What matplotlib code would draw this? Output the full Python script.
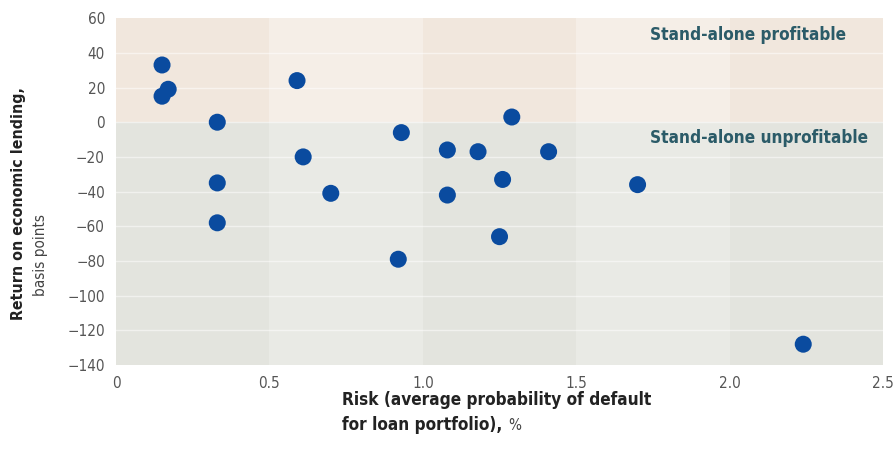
import matplotlib
matplotlib.use('Agg')
import matplotlib.pyplot as plt
from matplotlib.patches import Rectangle

# Risk (PD %) and return (bp) per bank
risk = [0.15, 0.15, 0.17, 0.33, 0.33, 0.33, 0.59, 0.61, 0.70, 0.92,
        0.93, 1.08, 1.08, 1.18, 1.26, 1.25, 1.29, 1.41, 1.70, 2.24]
ret = [33, 15, 19, 0, -35, -58, 24, -20, -41, -79,
       -6, -16, -42, -17, -33, -66, 3, -17, -36, -128]

x_ticks = [0, 0.5, 1.0, 1.5, 2.0, 2.5]
x_tick_labels = ['0', '0.5', '1.0', '1.5', '2.0', '2.5']
y_ticks = list(range(-140, 61, 20))

plt.rcParams['font.family'] = ['DejaVu Sans']
plt.rcParams['font.stretch'] = 'condensed'

fig = plt.figure(figsize=(8.96, 4.54), dpi=100)
ax = fig.add_axes([0.1295, 0.196, 0.856, 0.764])
ax.set_xlim(0, 2.5)
ax.set_ylim(-140, 60)

# shaded background: warm above zero, grey below, alternating columns
top_cols = ['#f1e7dd', '#f5eee7']
bot_cols = ['#e3e4de', '#e9eae5']
for i in range(5):
    x0 = i * 0.5
    ax.add_patch(Rectangle((x0, 0), 0.5, 60, color=top_cols[i % 2], lw=0, zorder=0))
    ax.add_patch(Rectangle((x0, -140), 0.5, 140, color=bot_cols[i % 2], lw=0, zorder=0))
for y in y_ticks[1:-1]:
    ax.axhline(y, color='white', lw=1.0, alpha=0.5, zorder=1)

ax.scatter(risk, ret, s=150, color='#0a4b9f', edgecolors='none', zorder=3)

ax.text(1.74, 50.5, 'Stand-alone profitable', fontsize=12.3, fontweight='bold',
        color='#2b5b68', va='center', ha='left')
ax.text(1.74, -9, 'Stand-alone unprofitable', fontsize=12.3, fontweight='bold',
        color='#2b5b68', va='center', ha='left')

ax.set_xticks(x_ticks)
ax.set_xticklabels(x_tick_labels)
ax.set_yticks(y_ticks)
ax.set_yticklabels([str(v).replace('-', '\u2212') for v in y_ticks])
ax.tick_params(length=0, labelsize=11, colors='#555555', pad=8)
for s in ax.spines.values():
    s.set_visible(False)

fig.text(0.021, 0.295, 'Return on economic lending,', rotation=90, fontsize=11.4,
         fontweight='bold', color='#222222', ha='center', va='bottom')
fig.text(0.045, 0.348, 'basis points', rotation=90, fontsize=11,
         color='#444444', ha='center', va='bottom')

t1 = fig.text(0.382, 0.108, 'Risk (average probability of default', fontsize=12.3,
              fontweight='bold', color='#222222', ha='left', va='baseline')
t2 = fig.text(0.382, 0.053, 'for loan portfolio), ', fontsize=12.3,
              fontweight='bold', color='#222222', ha='left', va='baseline')
r = fig.canvas.get_renderer()
bb = t2.get_window_extent(r)
fig.text(bb.x1 / fig.bbox.width, 0.053, '%', fontsize=11, color='#444444',
         ha='left', va='baseline')

fig.savefig('out.png', dpi=100)
